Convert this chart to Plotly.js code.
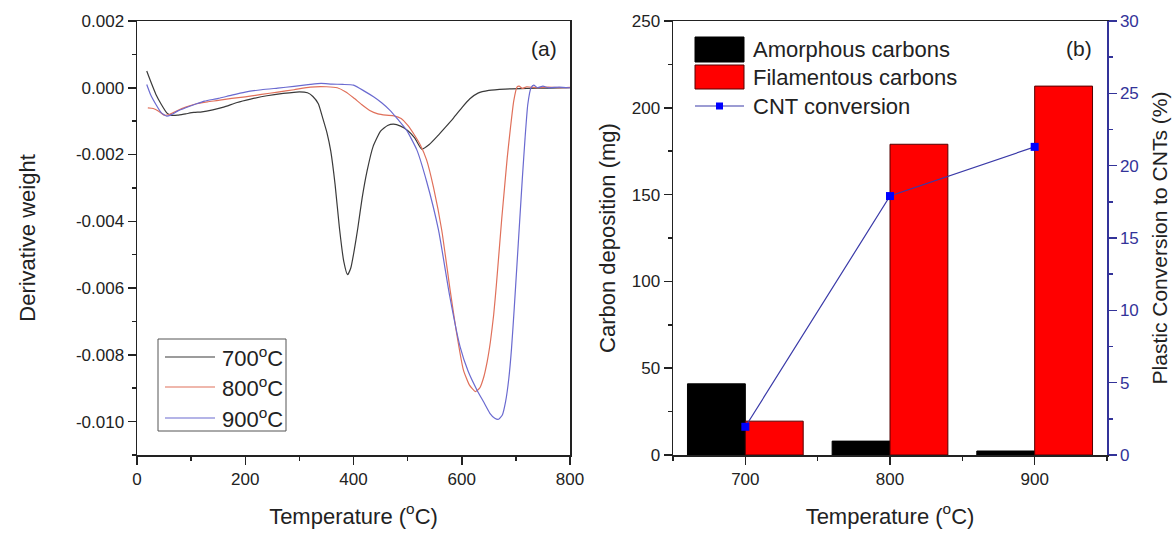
<!DOCTYPE html>
<html>
<head>
<meta charset="utf-8">
<script src="https://cdn.plot.ly/plotly-3.0.1.min.js"></script>
<style>html,body{margin:0;padding:0;background:#fff;}#chart{width:1176px;height:533px;}</style>
</head>
<body>
<div id="chart"></div>
<script>
// ---------- Panel (a): DTG curves ----------
const t700 = [18, 25, 35, 45, 55, 62, 75, 90, 105, 120, 140, 160, 185, 210, 240, 270, 300, 315, 325, 335, 343, 351, 358, 366, 374, 382, 389, 395, 401, 408, 416, 425, 436, 450, 463, 474, 487, 500, 513, 526, 540, 555, 570, 585, 600, 615, 630, 650, 680, 720, 760, 800];
const d700 = [0.0005, 0.0002, -0.0002, -0.0005, -0.00075, -0.00082, -0.00082, -0.00078, -0.00074, -0.00072, -0.00066, -0.00058, -0.00044, -0.00034, -0.00024, -0.00017, -0.00012, -0.00015, -0.00026, -0.00048, -0.0009, -0.00135, -0.0019, -0.0029, -0.0042, -0.0052, -0.0056, -0.0054, -0.0049, -0.0042, -0.0033, -0.0025, -0.00177, -0.0013, -0.00113, -0.00109, -0.00115, -0.00128, -0.0015, -0.00184, -0.0017, -0.00145, -0.00118, -0.0009, -0.0006, -0.00033, -0.00016, -0.00008, -0.00004, -0.00002, -0.00001, 0.0];

const t800 = [20, 30, 40, 50, 60, 75, 90, 110, 130, 150, 175, 200, 230, 260, 290, 320, 350, 370, 385, 400, 415, 430, 445, 460, 475, 488, 500, 512, 523, 535, 548, 563, 578, 590, 603, 614, 625, 633, 640, 647, 653, 659, 664, 669, 674, 679, 684, 690, 696, 702, 706, 712, 720, 740, 760, 780, 800];
const d800 = [-0.0006, -0.00062, -0.0007, -0.00082, -0.0008, -0.00068, -0.00058, -0.00048, -0.00042, -0.00038, -0.00032, -0.00027, -0.0002, -0.00013, -0.00006, 0.00002, 0.00003, 0.0, -0.00012, -0.0003, -0.0005, -0.00068, -0.00078, -0.00082, -0.00084, -0.00092, -0.00112, -0.0014, -0.0017, -0.00216, -0.003, -0.00426, -0.006, -0.0073, -0.00845, -0.0089, -0.0091, -0.009, -0.0087, -0.0082, -0.0076, -0.0068, -0.0059, -0.0049, -0.0039, -0.003, -0.0021, -0.0012, -0.0004, 0.00002, 0.00005, -0.00002, 0.00003, 0.0, 0.00002, 0.0, 0.00001];

const t900 = [18, 25, 35, 45, 55, 62, 75, 90, 110, 125, 150, 175, 200, 230, 260, 290, 320, 340, 360, 380, 400, 420, 437, 452, 467, 482, 498, 517, 535, 557, 578, 597, 612, 628, 640, 652, 661, 668, 675, 681, 687, 692, 697, 702, 707, 712, 717, 722, 728, 733, 740, 750, 760, 780, 800];
const d900 = [0.0001, -0.0002, -0.0005, -0.00075, -0.00085, -0.00082, -0.0007, -0.0006, -0.00048, -0.0004, -0.00032, -0.00022, -0.00013, -0.00006, -0.00001, 0.00004, 0.0001, 0.00013, 0.00011, 0.0001, 0.00008, -0.0001, -0.00027, -0.00045, -0.00067, -0.00095, -0.00127, -0.00186, -0.0028, -0.00426, -0.00626, -0.00776, -0.0085, -0.00905, -0.0094, -0.00975, -0.0099, -0.00993, -0.0098, -0.0094, -0.0087, -0.0078, -0.0066, -0.0053, -0.004, -0.0027, -0.0015, -0.0005, 0.0, 0.00008, 0.0, 0.00005, 0.0, 0.00002, 0.0];

const curveNames = ['700<sup>o</sup>C', '800<sup>o</sup>C', '900<sup>o</sup>C'];
const curveColors = ['#3a3a3a', '#e0705a', '#6a6ad0'];

const yTickVals = [0.002, 0.000, -0.002, -0.004, -0.006, -0.008, -0.010];
const yTickText = ['0.002', '0.000', '-0.002', '-0.004', '-0.006', '-0.008', '-0.010'];
const xTickVals = [0, 200, 400, 600, 800];

// ---------- Panel (b): carbon deposition ----------
const temps = [700, 800, 900];
const amorphous = [41, 8, 2.3];
const filamentous = [19.5, 179, 212.5];
const cntConversion = [1.95, 17.9, 21.3];
const barNames = ['Amorphous carbons', 'Filamentous carbons', 'CNT conversion'];

const FONT = 'Arial, "Liberation Sans", sans-serif';
const NAVY = '#333399';

const traces = [
  {x: t700, y: d700, name: curveNames[0], type: 'scatter', mode: 'lines', line: {color: curveColors[0], width: 1.2, shape: 'spline', smoothing: 0.5}, xaxis: 'x', yaxis: 'y', showlegend: false},
  {x: t800, y: d800, name: curveNames[1], type: 'scatter', mode: 'lines', line: {color: curveColors[1], width: 1.2, shape: 'spline', smoothing: 0.5}, xaxis: 'x', yaxis: 'y', showlegend: false},
  {x: t900, y: d900, name: curveNames[2], type: 'scatter', mode: 'lines', line: {color: curveColors[2], width: 1.2, shape: 'spline', smoothing: 0.5}, xaxis: 'x', yaxis: 'y', showlegend: false},
  {x: temps, y: amorphous, name: barNames[0], type: 'bar', marker: {color: '#000000', line: {color: '#000000', width: 1}}, xaxis: 'x2', yaxis: 'y2', showlegend: false},
  {x: temps, y: filamentous, name: barNames[1], type: 'bar', marker: {color: '#ff0000', line: {color: '#550000', width: 1}}, xaxis: 'x2', yaxis: 'y2', showlegend: false},
  {x: temps, y: cntConversion, name: barNames[2], type: 'scatter', mode: 'lines+markers', line: {color: '#3a3aa8', width: 1.2}, marker: {symbol: 'square', size: 8, color: '#0000ff'}, xaxis: 'x2', yaxis: 'y3', showlegend: false}
];

const W = 1176, H = 533;
const L = 137, R = 1107, T = 21, B = 455;
const pw = R - L, ph = B - T;
// paper coords are relative to the plot area (inside margins)
const px = v => (v - L) / pw, py = v => (B - v) / ph;

const axBase = {
  showgrid: false, zeroline: false, showline: true, linecolor: '#222', linewidth: 1.5,
  ticks: 'outside', ticklen: 8, tickwidth: 1.5, tickcolor: '#222',
  tickfont: {family: FONT, size: 17, color: '#222'}
};

const shapes = [];
const annotations = [];

// left legend box
shapes.push({type: 'rect', xref: 'paper', yref: 'paper', x0: px(158), x1: px(286), y0: py(431), y1: py(339), line: {color: '#555', width: 1}, fillcolor: 'rgba(255,255,255,0)'});
[357, 387, 418].forEach((yy, i) => {
  shapes.push({type: 'line', xref: 'paper', yref: 'paper', x0: px(165), x1: px(215), y0: py(yy), y1: py(yy), line: {color: curveColors[i], width: 1.2}});
  annotations.push({xref: 'paper', yref: 'paper', x: px(220), y: py(yy), xanchor: 'left', yanchor: 'middle', text: curveNames[i], showarrow: false, font: {family: FONT, size: 22, color: '#222'}});
});

// right legend
const swatchColors = ['#000000', '#ff0000'];
[[37, 62], [65, 89]].forEach((r, i) => {
  shapes.push({type: 'rect', xref: 'paper', yref: 'paper', x0: px(695), x1: px(744), y0: py(r[1]), y1: py(r[0]), fillcolor: swatchColors[i], line: {color: i ? '#550000' : '#000', width: 1}});
});
shapes.push({type: 'line', xref: 'paper', yref: 'paper', x0: px(695), x1: px(744), y0: py(106), y1: py(106), line: {color: '#3a3aa8', width: 1.2}});
shapes.push({type: 'rect', xref: 'paper', yref: 'paper', x0: px(716), x1: px(723), y0: py(109.5), y1: py(102.5), fillcolor: '#0000ff', line: {width: 0}});
[49, 77, 106].forEach((yy, i) => {
  annotations.push({xref: 'paper', yref: 'paper', x: px(751), y: py(yy), xanchor: 'left', yanchor: 'middle', text: barNames[i], showarrow: false, font: {family: FONT, size: 22, color: '#222'}});
});

annotations.push({xref: 'paper', yref: 'paper', x: px(559), y: py(48), xanchor: 'right', yanchor: 'middle', text: '(a)', showarrow: false, font: {family: FONT, size: 21, color: '#222'}});
annotations.push({xref: 'paper', yref: 'paper', x: px(1094), y: py(48), xanchor: 'right', yanchor: 'middle', text: '(b)', showarrow: false, font: {family: FONT, size: 21, color: '#222'}});

const layout = {
  width: W, height: H,
  margin: {l: L, r: W - R, t: T, b: H - B, pad: 0},
  paper_bgcolor: '#fff', plot_bgcolor: '#fff',
  showlegend: false,
  barmode: 'group', bargap: 0.2, bargroupgap: 0,
  font: {family: FONT, color: '#222'},
  xaxis: Object.assign({}, axBase, {
    domain: [0, (570 - L) / pw], range: [0, 800], anchor: 'y', mirror: true,
    tickmode: 'array', tickvals: xTickVals,
    minor: {dtick: 100, tick0: 0, ticks: 'outside', ticklen: 4, tickwidth: 1.5, tickcolor: '#222', showgrid: false},
    title: {text: 'Temperature (<sup>o</sup>C)', font: {family: FONT, size: 22, color: '#222'}, standoff: 20}
  }),
  yaxis: Object.assign({}, axBase, {
    domain: [0, 1], range: [-0.011, 0.002], anchor: 'x', mirror: true,
    tickmode: 'array', tickvals: yTickVals, ticktext: yTickText,
    minor: {dtick: 0.001, tick0: 0, ticks: 'outside', ticklen: 4, tickwidth: 1.5, tickcolor: '#222', showgrid: false},
    title: {text: 'Derivative weight', font: {family: FONT, size: 22, color: '#222'}, standoff: 34}
  }),
  xaxis2: Object.assign({}, axBase, {
    domain: [(673 - L) / pw, 1], range: [650, 950], anchor: 'y2', mirror: true,
    tickmode: 'array', tickvals: temps,
    minor: {dtick: 50, tick0: 650, ticks: 'outside', ticklen: 4, tickwidth: 1.5, tickcolor: '#222', showgrid: false},
    title: {text: 'Temperature (<sup>o</sup>C)', font: {family: FONT, size: 22, color: '#222'}, standoff: 20}
  }),
  yaxis2: Object.assign({}, axBase, {
    domain: [0, 1], range: [0, 250], anchor: 'x2', dtick: 50, tick0: 0,
    minor: {dtick: 25, tick0: 0, ticks: 'outside', ticklen: 4, tickwidth: 1.5, tickcolor: '#222', showgrid: false},
    title: {text: 'Carbon deposition (mg)', font: {family: FONT, size: 22, color: '#222'}, standoff: 10}
  }),
  yaxis3: Object.assign({}, axBase, {
    overlaying: 'y2', side: 'right', anchor: 'x2', range: [0, 30], dtick: 5, tick0: 0,
    linecolor: NAVY, tickcolor: NAVY, tickfont: {family: FONT, size: 17, color: NAVY},
    minor: {dtick: 2.5, tick0: 0, ticks: 'outside', ticklen: 4, tickwidth: 1.5, tickcolor: NAVY, showgrid: false},
    title: {text: 'Plastic Conversion to CNTs (%)', font: {family: FONT, size: 21, color: '#222'}, standoff: 14}
  }),
  shapes: shapes,
  annotations: annotations
};

Plotly.newPlot('chart', traces, layout, {displayModeBar: false, staticPlot: true});
</script>
</body>
</html>
